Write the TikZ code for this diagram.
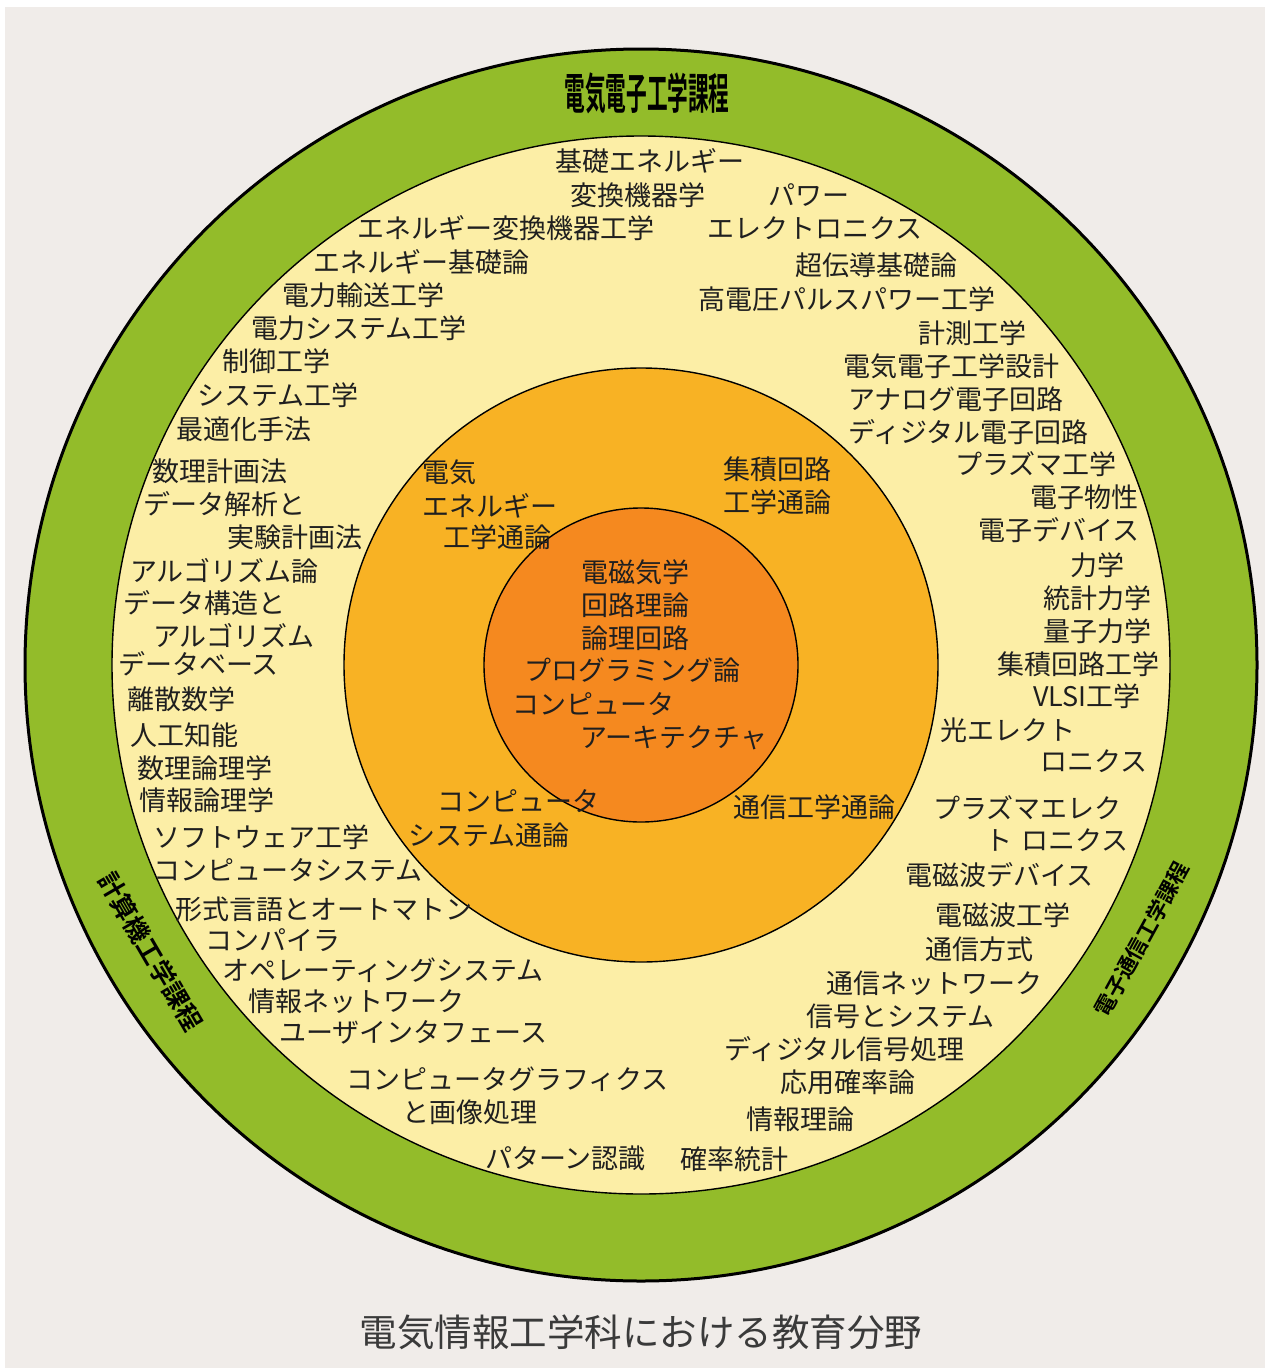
\documentclass[tikz,border=0pt]{standalone}
\usepackage{fontspec}
\usetikzlibrary{calc}
\setmainfont{Noto Sans CJK JP}[BoldFont={Noto Sans CJK JP Bold}]
\definecolor{paper}{HTML}{F0ECE9}
\definecolor{ringgreen}{HTML}{93BC2A}
\definecolor{ringyellow}{HTML}{FCEEA6}
\definecolor{ringamber}{HTML}{F8B224}
\definecolor{ringorange}{HTML}{F5891F}
\definecolor{captiongray}{HTML}{3A3A3A}
\begin{document}
\begin{tikzpicture}[x=1pt,y=-1pt,
  lbl/.style={anchor=west, inner sep=0pt, yshift=-6pt, text height=0.83em, text depth=0.07em, font=\fontsize{27}{33}\selectfont, text=black!88},
  sidelbl/.style={inner sep=0pt, font=\bfseries\fontsize{25.5}{26}\selectfont},
  sidelblR/.style={inner sep=0pt, font=\bfseries\fontsize{21.5}{22}\selectfont},
  ringline/.style={draw=black, line width=1.4pt}]
\useasboundingbox (0,0) rectangle (1265,1368);
\fill[white] (0,0) rectangle (1265,1368);
\fill[paper] (5,7) rectangle (1265,1368);
\coordinate (c) at (641,665);
% rings
\draw[fill=ringgreen, line width=3pt] (c) circle (616pt);
\draw[ringline, fill=ringyellow] (c) circle (529pt);
\draw[ringline, fill=ringamber] (c) circle (297pt);
\draw[ringline, fill=ringorange] (c) circle (157pt);
% title
\node[inner sep=0pt, xscale=0.48, font=\bfseries\fontsize{43}{43}\selectfont] (title) at (647,93) {電気電子工学課程};
% side labels (along the green band)
\node[sidelbl, rotate=300.3] (left) at ($(c)+(-210.3:568)$) {計算機工学課程};
\node[sidelblR, rotate=61.3] (right) at ($(c)+(28.7:571)$) {電子通信工学課程};
% yellow ring texts
\node[lbl] (t1) at (555,162) {基礎エネルギー};
\node[lbl] (t2) at (570,196) {変換機器学};
\node[lbl] (t3) at (768,196) {パワー};
\node[lbl] (t4) at (357,229) {エネルギー変換機器工学};
\node[lbl] (t5) at (707,229) {エレクトロニクス};
\node[lbl] (t6) at (313,263) {エネルギー基礎論};
\node[lbl] (t7) at (795,266) {超伝導基礎論};
\node[lbl] (t8) at (282,296) {電力輸送工学};
\node[lbl] (t9) at (698,300) {高電圧パルスパワー工学};
\node[lbl] (t10) at (251,329) {電力システム工学};
\node[lbl] (t11) at (918,334) {計測工学};
\node[lbl] (t12) at (222,362) {制御工学};
\node[lbl] (t13) at (843,367) {電気電子工学設計};
\node[lbl] (t14) at (197,396) {システム工学};
\node[lbl] (t15) at (848,400) {アナログ電子回路};
\node[lbl] (t16) at (176,430) {最適化手法};
\node[lbl] (t17) at (848,433) {ディジタル電子回路};
\node[lbl] (t18) at (152,472) {数理計画法};
\node[lbl] (t19) at (955,465) {プラズマ工学};
\node[lbl] (t20) at (143,505) {データ解析と};
\node[lbl] (t21) at (1030,498) {電子物性};
\node[lbl] (t22) at (227,538) {実験計画法};
\node[lbl] (t23) at (978,531) {電子デバイス};
\node[lbl] (t24) at (130,572) {アルゴリズム論};
\node[lbl] (t25) at (1070,566) {力学};
\node[lbl] (t26) at (123,604) {データ構造と};
\node[lbl] (t27) at (1043,599) {統計力学};
\node[lbl] (t28) at (153,637) {アルゴリズム};
\node[lbl] (t29) at (1043,632) {量子力学};
\node[lbl] (t30) at (118,665) {データベース};
\node[lbl] (t31) at (997,665) {集積回路工学};
\node[lbl] (t32) at (127,700) {離散数学};
\node[lbl] (t33) at (1033,697) {VLSI工学};
\node[lbl] (t34) at (940,731) {光エレクト};
\node[lbl] (t35) at (130,736) {人工知能};
\node[lbl] (t36) at (1040,762) {ロニクス};
\node[lbl] (t37) at (137,769) {数理論理学};
\node[lbl] (t38) at (139,801) {情報論理学};
\node[lbl] (t39) at (933,809) {プラズマエレク};
\node[lbl] (t40) at (153,838) {ソフトウェア工学};
\node[lbl] (t41) at (985,841) {ト\hspace{0.35em}ロニクス};
\node[lbl] (t42) at (153,871) {コンピュータシステム};
\node[lbl] (t43) at (905,876) {電磁波デバイス};
\node[lbl] (t44) at (175,910) {形式言語とオートマトン};
\node[lbl] (t45) at (935,916) {電磁波工学};
\node[lbl] (t46) at (205,941) {コンパイラ};
\node[lbl] (t47) at (925,950) {通信方式};
\node[lbl] (t48) at (222,971) {オペレーティングシステム};
\node[lbl] (t49) at (826,984) {通信ネットワーク};
\node[lbl] (t50) at (248,1002) {情報ネットワーク};
\node[lbl] (t51) at (806,1017) {信号とシステム};
\node[lbl] (t52) at (279,1033) {ユーザインタフェース};
\node[lbl] (t53) at (724,1050) {ディジタル信号処理};
\node[lbl] (t54) at (346,1080) {コンピュータグラフィクス};
\node[lbl] (t55) at (780,1083) {応用確率論};
\node[lbl] (t56) at (402,1113) {と画像処理};
\node[lbl] (t57) at (746,1120) {情報理論};
\node[lbl] (t58) at (485,1159) {パターン認識};
\node[lbl] (t59) at (680,1160) {確率統計};
% amber ring texts
\node[lbl] (o1) at (422,473) {電気};
\node[lbl] (o2) at (422,507) {エネルギー};
\node[lbl] (o3) at (443,538) {工学通論};
\node[lbl] (o4) at (723,470) {集積回路};
\node[lbl] (o5) at (723,503) {工学通論};
\node[lbl] (o6) at (437,802) {コンピュータ};
\node[lbl] (o7) at (408,836) {システム通論};
\node[lbl] (o8) at (733,808) {通信工学通論};
% inner core texts
\node[lbl] (i1) at (581,573) {電磁気学};
\node[lbl] (i2) at (581,606) {回路理論};
\node[lbl] (i3) at (581,639) {論理回路};
\node[lbl] (i4) at (524,671) {プログラミング論};
\node[lbl] (i5) at (512,705) {コンピュータ};
\node[lbl] (i6) at (580,738) {アーキテクチャ};
% caption
\node[inner sep=0pt, text=captiongray, font=\fontsize{37.5}{40}\selectfont] (cap) at (641,1332) {電気情報工学科における教育分野};
\end{tikzpicture}
\end{document}
